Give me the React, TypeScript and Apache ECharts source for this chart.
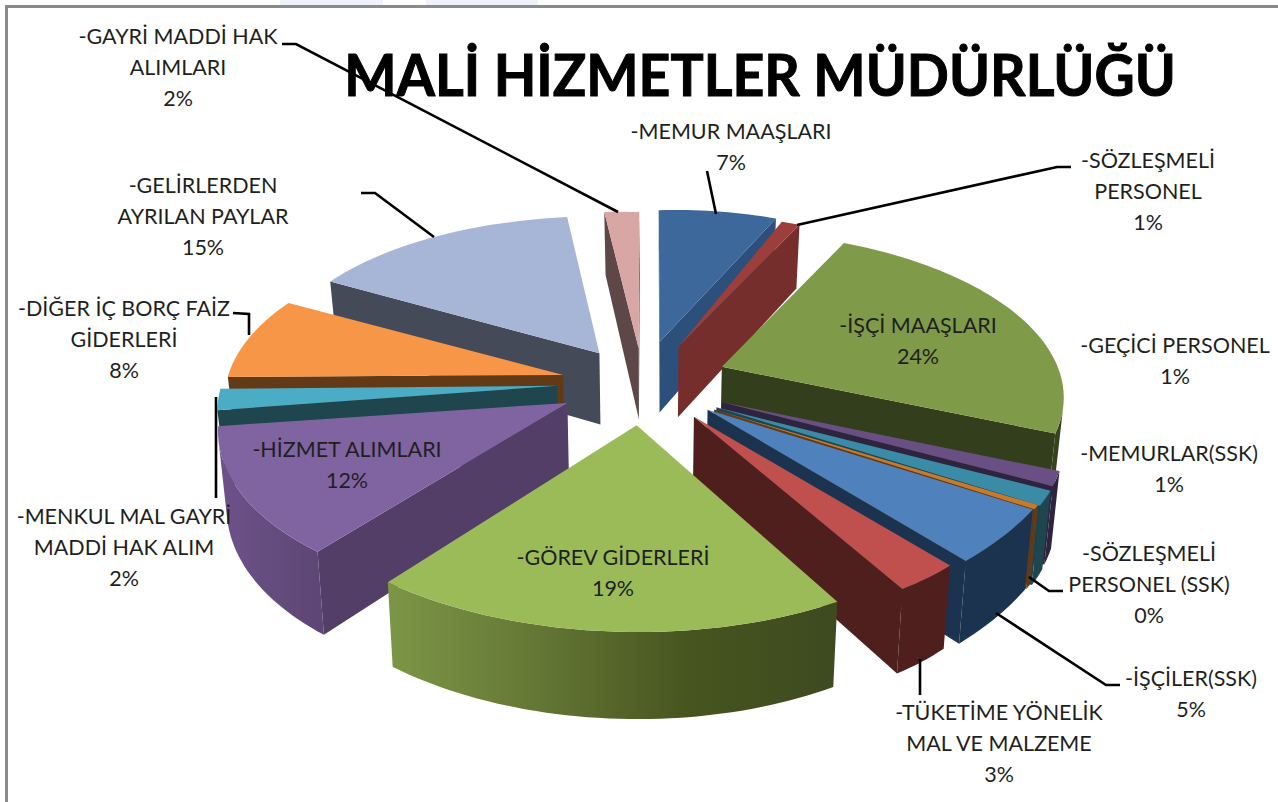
import React, { useEffect, useRef } from "react";
import * as echarts from "echarts";

const TITLE = "MALİ HİZMETLER MÜDÜRLÜĞÜ";
const categories = [
  "-MEMUR MAAŞLARI",
  "-SÖZLEŞMELİ\nPERSONEL",
  "-İŞÇİ MAAŞLARI",
  "-GEÇİCİ PERSONEL",
  "-MEMURLAR(SSK)",
  "-SÖZLEŞMELİ\nPERSONEL (SSK)",
  "-İŞÇİLER(SSK)",
  "-TÜKETİME YÖNELİK\nMAL VE MALZEME",
  "-GÖREV GİDERLERİ",
  "-HİZMET ALIMLARI",
  "-MENKUL MAL GAYRİ\nMADDİ HAK ALIM",
  "-DİĞER İÇ BORÇ FAİZ\nGİDERLERİ",
  "-GELİRLERDEN\nAYRILAN PAYLAR",
  "-GAYRİ MADDİ HAK\nALIMLARI",
];
const values = [7, 1, 24, 1.2, 1.4, 0.4, 4.6, 3, 19, 12, 2, 8, 15, 2];

// Styling, per slice
const topColors = ["#3c689b", "#9c3f3c", "#7f9a48", "#6a4f85", "#3a8ba5", "#c87a2a", "#4f81bd", "#c0504d", "#9bbb59", "#8064a2", "#4bacc6", "#f79646", "#a7b6d6", "#d9a6a6"];
const sideColors = ["#2c4f7c", "#752e2c", "#333f1c", "#2f2440", "#1f454f", "#633a16", "#1c3350", "#4f1f1e", "#404c20", "#523e66", "#1f454f", "#633a16", "#454a58", "#5e4747"];
const rimGradients = [
  ["#2c4f7c", "#2c4f7c"], ["#752e2c", "#752e2c"], ["#3a4720", "#333f1c"], ["#2f2440", "#2f2440"],
  ["#1f454f", "#1f454f"], ["#633a16", "#633a16"], ["#1c3350", "#1c3350"], ["#4f1f1e", "#4f1f1e"],
  ["#7c9646", "#647735", "#47551f", "#3e4a1f"], ["#6d5289", "#5c4674"], ["#1f454f", "#1f454f"], ["#633a16", "#633a16"],
  ["#454a58", "#454a58"], ["#5e4747", "#5e4747"],
];

// Perspective corrections per slice, in pixels: rim start dx,dy, rim end dx,dy, apex dx,dy
const nudges = [
  [26, 0, 15, 0, 7, -7],
  [3, 1, 3, 1, 6, -5],
  [5, 2, 0, 0, 4, -6],
  [-6, 3, -6, 5, 3, -2],
  [-6, 6, -6, 6, 0, 0],
  [-6, 3, -6, 3, 0, 0],
  [-1, -3, -9, 3, 1, -5],
  [-10, -1, -3, -2, 2, -5],
  [-6, 0, -8, -7, 1, -5],
  [-5, -12, 7, -15, 1, -7],
  [13, -13, 14, -13, 2, -7],
  [16, -12, 20, -10, 6, -5],
  [26, -10, 28, -1, 10, -3],
  [29, 0, 27, 2, 9, 0],
];

// Label layout: centre x and first line centre y
const labelLayout: [number, number][] = [
  [731, 131], [1148, 160], [918, 325], [1175, 345], [1169, 453], [1149, 553], [1191, 678],
  [999, 712], [613, 557], [347, 449], [124, 516], [124, 308], [203, 185], [178, 36],
];
const leaders: number[][][] = [
  [[707, 171], [716, 214]],
  [[1071, 167], [1057, 167], [797, 225]],
  [[1063, 591], [1049, 591], [1029, 577]],
  [[1120, 685], [1106, 685], [996, 613]],
  [[920, 659], [920, 695]],
  [[216, 397], [216, 498]],
  [[233, 313], [249, 314], [249, 335]],
  [[361, 193], [375, 193], [434, 237]],
  [[282, 44], [296, 44], [618, 212]],
];

// 3D pie projection parameters
const CX = 640, CY = 388, TILT = 0.482, FOCAL = 2660, RADIUS = 345, EXPLODE = 85, DEPTH = 73, START_DEG = -3.6, SQUEEZE = 0.98;

const total = values.reduce((a, b) => a + b, 0);
const project = (X: number, Z: number, h: number) => {
  const s = FOCAL / (FOCAL - Z);
  const k = h > 0 ? SQUEEZE : 1;
  return [CX + X * s * k, CY + TILT * Z * s + h * s];
};

const angles = (() => {
  let acc = START_DEG;
  return values.map((v) => {
    const a0 = acc;
    acc += (v / total) * 360;
    return [a0, acc];
  });
})();
const rad = (d: number) => (d * Math.PI) / 180;

const drawOrder = values
  .map((_, i) => i)
  .sort((p, q) => {
    const m = (i: number) => Math.abs(((angles[i][0] + angles[i][1]) / 2 + 360) % 360 - 180);
    return m(q) - m(p);
  });

const signed = (pts: number[][]) => {
  let a = 0;
  pts.forEach((p, i) => {
    const n = pts[(i + 1) % pts.length];
    a += p[0] * n[1] - n[0] * p[1];
  });
  return a;
};

function renderSlice(params: any) {
  const i = drawOrder[params.dataIndex];
  const [a0, a1] = angles[i];
  const n = nudges[i];
  const mid = rad((a0 + a1) / 2);
  const ax = EXPLODE * Math.sin(mid);
  const az = -EXPLODE * Math.cos(mid);
  const steps = Math.max(2, Math.ceil((a1 - a0) / 1.5));
  // each point: world x, world z, screen dx, screen dy
  const world: number[][] = [];
  for (let t = 0; t <= steps; t++) {
    const u = t / steps;
    const th = rad(a0 + (a1 - a0) * u);
    world.push([
      ax + RADIUS * Math.sin(th),
      az - RADIUS * Math.cos(th),
      n[0] + (n[2] - n[0]) * u,
      n[1] + (n[3] - n[1]) * u,
    ]);
  }
  const at = (w: number[], h: number) => {
    const p = project(w[0], w[1], h);
    return [p[0] + w[2], p[1] + w[3]];
  };
  const top = (w: number[]) => at(w, 0);
  const bot = (w: number[]) => at(w, DEPTH);
  const apex = [ax, az, n[4], n[5]];
  const children: any[] = [];
  const quad = (a: number[], b: number[]) => [top(a), top(b), bot(b), bot(a)];

  // radial faces
  const radial1 = quad(apex, world[0]);
  const radial2 = quad(world[world.length - 1], apex);
  [radial1, radial2].forEach((q) => {
    if (signed(q) < 0) children.push({ type: "polygon", shape: { points: q }, style: { fill: sideColors[i] } });
  });
  // rim: contiguous visible run(s)
  let run: number[][] = [];
  const flush = () => {
    if (run.length > 1) {
      const pts = [...run.map(top), ...run.slice().reverse().map(bot)];
      const colors = rimGradients[i];
      children.push({
        type: "polygon",
        shape: { points: pts },
        style: {
          fill: new echarts.graphic.LinearGradient(
            0, 0, 1, 0,
            colors.map((color, c) => ({ offset: c / (colors.length - 1), color }))
          ),
        },
      });
    }
    run = [];
  };
  for (let t = 0; t < steps; t++) {
    const q = quad(world[t], world[t + 1]);
    if (signed(q) < 0) {
      if (!run.length) run.push(world[t]);
      run.push(world[t + 1]);
    } else flush();
  }
  flush();
  // top face
  children.push({
    type: "polygon",
    shape: { points: [top(apex), ...world.map(top)] },
    style: { fill: topColors[i] },
  });
  return { type: "group", children };
}

const LABEL_FONT = "Lato";
const LINE = 31;

export default function App() {
  const ref = useRef<HTMLDivElement>(null);
  useEffect(() => {
    document.body.style.margin = "0";
    const chart = echarts.init(ref.current!, null, { renderer: "svg" });
    const labels = categories.map((c, i) => ({
      type: "text",
      x: labelLayout[i][0],
      y: labelLayout[i][1] - LINE / 2,
      z: 20,
      style: {
        text: `${c}\n${Math.round((values[i] / total) * 100)}%`,
        fill: "#1f1f1f",
        font: `400 21.5px ${LABEL_FONT}`,
        lineHeight: LINE,
        align: "center",
        verticalAlign: "top",
      },
    }));
    const lines = leaders.map((pts) => ({
      type: "polyline",
      z: 10,
      shape: { points: pts },
      style: { stroke: "#000", lineWidth: 2.6, fill: "none" },
    }));
    chart.setOption({
      animation: false,
      backgroundColor: "#ffffff",
      series: [
        {
          type: "custom",
          coordinateSystem: "none",
          silent: true,
          renderItem: renderSlice,
          data: drawOrder.map((i) => ({ name: categories[i], value: values[i] })),
          z: 5,
        },
      ],
      graphic: [
        { type: "rect", z: 1, shape: { x: 280, y: 0, width: 103, height: 5 }, style: { fill: "#eef2fa" } },
        { type: "rect", z: 1, shape: { x: 426, y: 0, width: 112, height: 5 }, style: { fill: "#eef2fa" } },
        { type: "rect", z: 1, shape: { x: 6.5, y: 6.5, width: 1276, height: 802 }, style: { fill: "none", stroke: "#8a8a8a", lineWidth: 3 } },
        ...lines,
        ...labels,
        {
          type: "text",
          x: 760,
          y: 73,
          z: 20,
          scaleX: 0.955,
          style: { text: TITLE, fill: "#000", stroke: "#000", lineWidth: 1, font: "700 58px Lato", align: "center", verticalAlign: "middle" },
        },
      ],
    });
    return () => chart.dispose();
  }, []);
  return <div ref={ref} style={{ position: "fixed", left: 0, top: 0, width: 1278, height: 802 }} />;
}
